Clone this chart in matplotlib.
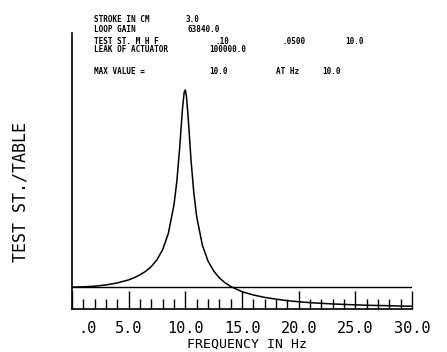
import numpy as np
from matplotlib import pyplot as plt

# DATA
freq = [0, 1, 2, 3, 4, 5, 5.5, 6, 6.5, 7, 7.5, 8, 8.5, 9, 9.25, 9.5, 9.75,
        9.9, 10, 10.1, 10.25, 10.5, 10.75, 11, 11.5, 12, 12.5, 13, 13.5, 14,
        15, 16, 17, 18, 19, 20, 21, 22, 23, 24, 25, 26, 27, 28, 29, 30]
ratio = [1.00, 1.01, 1.04, 1.10, 1.19, 1.33, 1.43, 1.56, 1.72, 1.94, 2.25,
         2.71, 3.45, 4.76, 5.83, 7.35, 9.15, 9.90, 10.0, 9.71, 8.75, 6.81,
         5.29, 4.22, 2.92, 2.19, 1.74, 1.42, 1.20, 1.03, 0.79, 0.64, 0.53,
         0.45, 0.38, 0.33, 0.29, 0.26, 0.23, 0.21, 0.19, 0.17, 0.16, 0.15,
         0.135, 0.125]

xtick_labels = ['.0', '5.0', '10.0', '15.0', '20.0', '25.0', '30.0']
xtick_label_pos = [1.4, 5.0, 10.0, 15.0, 20.0, 25.0, 30.0]

# header block: (text, x pixel, y pixel)
header = [
    ('STROKE IN CM', 94, 19), ('3.0', 186, 19),
    ('LOOP GAIN', 94, 30), ('63840.0', 187, 30),
    ('TEST ST. M H F', 94, 41), ('.10', 215, 41), ('.0500', 282, 41), ('10.0', 345, 41),
    ('LEAK OF ACTUATOR', 94, 50), ('100000.0', 209, 50),
    ('MAX VALUE =', 94, 72), ('10.0', 209, 72), ('AT Hz', 276, 72), ('10.0', 322, 72),
]

W, H = 447, 352
fig = plt.figure(figsize=(W / 100, H / 100), dpi=100)
ax = fig.add_axes([72 / W, 1 - 309 / H, (412 - 72) / W, (309 - 33) / H])

ax.plot(freq, ratio, color='black', lw=1.1)
ax.axhline(1.0, color='black', lw=1.0)

ax.set_xlim(0, 30)
ax.set_ylim(0, 12.6)
for s in ['top', 'right']:
    ax.spines[s].set_visible(False)
for s in ['left', 'bottom']:
    ax.spines[s].set_linewidth(1.2)

# ticks pointing up into the plot
ax.set_xticks(np.arange(0, 31, 5))
ax.set_xticks(np.arange(0, 31, 1), minor=True)
ax.tick_params(axis='x', which='major', direction='in', length=13, width=1.0, labelbottom=False)
ax.tick_params(axis='x', which='minor', direction='in', length=7, width=1.0)
ax.set_yticks([])

mono = 'DejaVu Sans Mono'
for lab, x in zip(xtick_labels, xtick_label_pos):
    ax.text(x, -0.9, lab, ha='center', va='center', family=mono, fontsize=11)
fig.text(247 / W, 1 - 344 / H, 'FREQUENCY IN Hz', ha='center', va='center',
         family=mono, fontsize=9.5)
fig.text(21 / W, 1 - 192 / H, 'TEST ST./TABLE', ha='center', va='center',
         rotation=90, family=mono, fontsize=12)

for txt, x, y in header:
    fig.text(x / W, 1 - y / H, txt, ha='left', va='center', family=mono,
             fontsize=5.5, fontweight='bold')

fig.savefig('out.png', dpi=100)
